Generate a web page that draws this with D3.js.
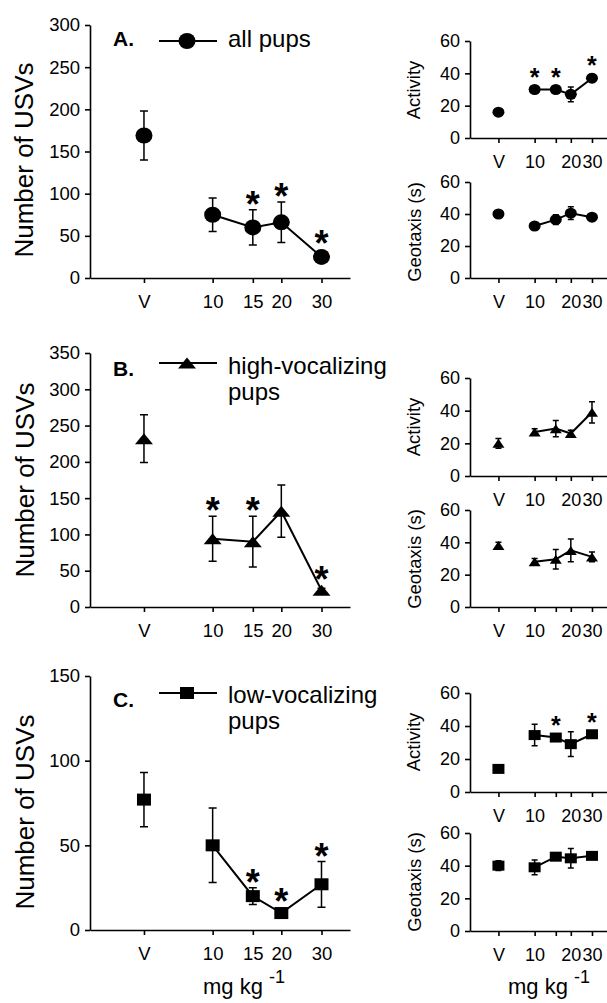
<!DOCTYPE html>
<html>
<head>
<meta charset="utf-8">
<script src="https://cdn.jsdelivr.net/npm/d3@7"></script>
<style>
  body { margin: 0; background: #fff; }
  svg { display: block; }
  text { font-family: 'Liberation Sans', Arial, Helvetica, sans-serif; fill: #000; }
</style>
</head>
<body>
<div id="figure"></div>
<script>
// dose on a log axis, vehicle ("V") is drawn at 5
const doses = [5, 10, 15, 20, 30]
const mainDoseLabels = ['V', '10', '15', '20', '30']
const smallDoseLabels = ['V', '10', '', '20', '30']

// A. all pups
const allUsv = [169, 75, 60, 66, 25]
const allUsvErr = [29, 20, 21, 24, 3]
const allUsvSig = [0, 0, 1, 1, 1]
const allActivity = [16, 30, 30, 27, 37]
const allActivityErr = [2, 2, 2, 4.5, 2.5]
const allActivitySig = [0, 1, 1, 0, 1]
const allGeotaxis = [40, 32.5, 36.5, 40.5, 38]
const allGeotaxisErr = [2, 2, 3, 4, 2]

// B. high-vocalizing pups
const highUsv = [232, 94, 90, 132, 23]
const highUsvErr = [33, 31, 35, 36, 3]
const highUsvSig = [0, 1, 1, 0, 1]
const highActivity = [20, 27, 29, 26, 39]
const highActivityErr = [3, 2, 5, 2, 6.5]
const highGeotaxis = [38, 28, 29.5, 35, 31]
const highGeotaxisErr = [2, 2, 6, 7, 3]

// C. low-vocalizing pups
const lowUsv = [77, 50, 20, 10, 27]
const lowUsvErr = [16, 22, 5, 3, 13.5]
const lowUsvSig = [0, 0, 1, 1, 1]
const lowActivity = [14, 34.5, 33, 29, 35]
const lowActivityErr = [1.5, 6.5, 1.5, 7.5, 2]
const lowActivitySig = [0, 0, 1, 0, 1]
const lowGeotaxis = [40, 39, 45.5, 44.5, 46]
const lowGeotaxisErr = [3, 4.5, 2, 6, 2]

const usvTicksA = [0, 50, 100, 150, 200, 250, 300]
const usvTicksB = [0, 50, 100, 150, 200, 250, 300, 350]
const usvTicksC = [0, 50, 100, 150]
const smallTicks = [0, 20, 40, 60]

const svg = d3.select('#figure')
  .append('svg')
  .attr('width', 607)
  .attr('height', 1003)

const doseDomain = [2.9, 40]

// marker sizes, big panels and small panels
const markerSize = {
  big: { circle: [17, 16], triangle: [18, 11], square: [14, 12] },
  small: { circle: [12, 11], triangle: [12, 9], square: [12, 10] }
}

const drawMarker = (g, shape, w, h, cx, cy) => {
  if (shape === 'circle') {
    g.append('ellipse').attr('cx', cx).attr('cy', cy)
      .attr('rx', w / 2).attr('ry', h / 2).attr('fill', '#000')
  } else if (shape === 'square') {
    g.append('rect').attr('x', cx - w / 2).attr('y', cy - h / 2)
      .attr('width', w).attr('height', h).attr('fill', '#000')
  } else {
    g.append('path')
      .attr('d', `M${cx},${cy - h / 2}L${cx + w / 2},${cy + h / 2}L${cx - w / 2},${cy + h / 2}Z`)
      .attr('fill', '#000')
  }
}

const drawPanel = (p) => {
  const big = p.size === 'big'
  const xScale = d3.scaleLog().domain(doseDomain).range(p.xRange)
  const yScale = d3.scaleLinear().domain([0, p.yMax]).range([p.yBottom, p.yTop])
  const g = svg.append('g')

  const xAxis = d3.axisBottom(xScale)
    .tickValues(doses)
    .tickFormat((d, i) => p.xLabels[i])
    .tickSize(5)
    .tickSizeOuter(0)
    .tickPadding(big ? 12 : 12)
  const xAxisGroup = g.append('g')
    .attr('transform', `translate(0, ${p.yBottom})`)
    .call(xAxis)

  const yAxis = d3.axisLeft(yScale)
    .tickValues(p.yTicks)
    .tickSize(5)
    .tickSizeOuter(0)
    .tickPadding(5)
  const yAxisGroup = g.append('g')
    .attr('transform', `translate(${p.xRange[0]}, 0)`)
    .call(yAxis)

  ;[xAxisGroup, yAxisGroup].forEach((ag) => {
    ag.selectAll('path, line').attr('stroke', '#000').attr('stroke-width', 1.6)
    ag.selectAll('text').attr('font-size', big ? 18.5 : 18).attr('fill', '#000')
      .style('font-family', "'Liberation Sans', Arial, sans-serif")
  })

  // axis title
  g.append('text')
    .attr('transform', `translate(${p.labelX}, ${p.labelY}) rotate(-90)`)
    .attr('text-anchor', 'middle')
    .attr('font-size', p.labelSize)
    .text(p.label)

  // line joins the doses, not the vehicle
  const lineGenerator = d3.line()
    .x((d, i) => xScale(doses[i + 1]))
    .y((d) => yScale(d))
  g.append('path')
    .datum(p.values.slice(1))
    .attr('d', lineGenerator)
    .attr('fill', 'none')
    .attr('stroke', '#000')
    .attr('stroke-width', 2)

  const [mw, mh] = markerSize[p.size][p.shape]
  const capHalf = big ? 4 : 3
  p.values.forEach((v, i) => {
    const cx = xScale(doses[i])
    const e = p.errors[i]
    const yHi = yScale(v + e)
    const yLo = yScale(v - e)
    g.append('path')
      .attr('d', `M${cx},${yHi}V${yLo}M${cx - capHalf},${yHi}H${cx + capHalf}M${cx - capHalf},${yLo}H${cx + capHalf}`)
      .attr('stroke', '#000')
      .attr('stroke-width', 1.5)
      .attr('fill', 'none')
    drawMarker(g, p.shape, mw, mh, cx, yScale(v))

    if (p.sig && p.sig[i]) {
      const top = Math.min(yHi, yScale(v) - mh / 2)
      const starSize = big ? 36 : 25
      const cy = top - (big ? 13 : 12.5)
      g.append('text')
        .attr('x', cx)
        .attr('y', cy + 0.56 * starSize)
        .attr('text-anchor', 'middle')
        .attr('font-weight', 'bold')
        .attr('font-size', starSize)
        .text('*')
    }
  })

  if (p.legend) {
    const lg = p.legend
    g.append('text')
      .attr('x', 113).attr('y', lg.letterY)
      .attr('font-size', 21).attr('font-weight', 'bold')
      .text(lg.letter)
    g.append('line')
      .attr('x1', 159).attr('x2', 217)
      .attr('y1', lg.lineY).attr('y2', lg.lineY)
      .attr('stroke', '#000').attr('stroke-width', 2)
    drawMarker(g, p.shape, mw, mh, 187, lg.lineY)
    // one text per legend line
    lg.lines.forEach((line, k) => {
      g.append('text')
        .attr('x', 228).attr('y', lg.textY + k * 26)
        .attr('font-size', 24)
        .text(line)
    })
  }
}

const mainX = [90, 350]
const smallX = [470, 607]

// A row
drawPanel({
  size: 'big', shape: 'circle', xRange: mainX, yTop: 25, yBottom: 278, yMax: 300,
  yTicks: usvTicksA, xLabels: mainDoseLabels,
  values: allUsv, errors: allUsvErr, sig: allUsvSig,
  label: 'Number of USVs', labelX: 33, labelY: 160, labelSize: 26,
  legend: { letter: 'A.', letterY: 46, lineY: 41, textY: 47, lines: ['all pups'] }
})
drawPanel({
  size: 'small', shape: 'circle', xRange: smallX, yTop: 41, yBottom: 138, yMax: 60,
  yTicks: smallTicks, xLabels: smallDoseLabels,
  values: allActivity, errors: allActivityErr, sig: allActivitySig,
  label: 'Activity', labelX: 420, labelY: 90, labelSize: 18.5
})
drawPanel({
  size: 'small', shape: 'circle', xRange: smallX, yTop: 182, yBottom: 278, yMax: 60,
  yTicks: smallTicks, xLabels: smallDoseLabels,
  values: allGeotaxis, errors: allGeotaxisErr,
  label: 'Geotaxis (s)', labelX: 421, labelY: 232, labelSize: 18.5
})

// B row
drawPanel({
  size: 'big', shape: 'triangle', xRange: mainX, yTop: 353, yBottom: 607, yMax: 350,
  yTicks: usvTicksB, xLabels: mainDoseLabels,
  values: highUsv, errors: highUsvErr, sig: highUsvSig,
  label: 'Number of USVs', labelX: 34, labelY: 480, labelSize: 26,
  legend: { letter: 'B.', letterY: 376, lineY: 363, textY: 374, lines: ['high-vocalizing', 'pups'] }
})
drawPanel({
  size: 'small', shape: 'triangle', xRange: smallX, yTop: 378, yBottom: 476, yMax: 60,
  yTicks: smallTicks, xLabels: smallDoseLabels,
  values: highActivity, errors: highActivityErr,
  label: 'Activity', labelX: 420, labelY: 427, labelSize: 18.5
})
drawPanel({
  size: 'small', shape: 'triangle', xRange: smallX, yTop: 510, yBottom: 607, yMax: 60,
  yTicks: smallTicks, xLabels: smallDoseLabels,
  values: highGeotaxis, errors: highGeotaxisErr,
  label: 'Geotaxis (s)', labelX: 421, labelY: 559, labelSize: 18.5
})

// C row
drawPanel({
  size: 'big', shape: 'square', xRange: mainX, yTop: 676, yBottom: 930, yMax: 150,
  yTicks: usvTicksC, xLabels: mainDoseLabels,
  values: lowUsv, errors: lowUsvErr, sig: lowUsvSig,
  label: 'Number of USVs', labelX: 34, labelY: 812, labelSize: 26,
  legend: { letter: 'C.', letterY: 707, lineY: 693, textY: 703, lines: ['low-vocalizing', 'pups'] }
})
drawPanel({
  size: 'small', shape: 'square', xRange: smallX, yTop: 693, yBottom: 792, yMax: 60,
  yTicks: smallTicks, xLabels: smallDoseLabels,
  values: lowActivity, errors: lowActivityErr, sig: lowActivitySig,
  label: 'Activity', labelX: 420, labelY: 742, labelSize: 18.5
})
drawPanel({
  size: 'small', shape: 'square', xRange: smallX, yTop: 833, yBottom: 931, yMax: 60,
  yTicks: smallTicks, xLabels: smallDoseLabels,
  values: lowGeotaxis, errors: lowGeotaxisErr,
  label: 'Geotaxis (s)', labelX: 421, labelY: 882, labelSize: 18.5
})

// dose unit under both columns
;[203, 508].forEach((x) => {
  const unit = svg.append('text').attr('x', x).attr('y', 994).attr('font-size', 22)
  unit.append('tspan').text('mg kg ')
  unit.append('tspan').attr('dy', -11).attr('font-size', 18).text('-1')
})
</script>
</body>
</html>
